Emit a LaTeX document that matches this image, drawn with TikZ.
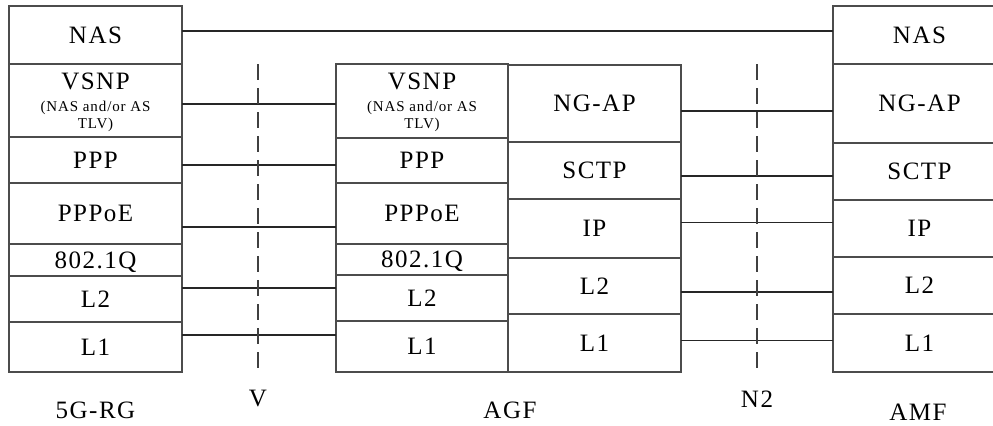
\documentclass[tikz,border=0pt]{standalone}
\usepackage{fontspec}
\setmainfont{Liberation Serif}[LetterSpace=6]
\newcommand\vsnpnote{\fontsize{7.5}{9}\selectfont}

\begin{document}
\begin{tikzpicture}[x = 0.5pt, y = -0.5pt, font = \fontsize{12.5}{15}\selectfont,
	layer/.style = {draw = black!70, line width = 0.8pt, inner sep = 0pt, outer sep = 0pt, align = center, text depth = 0pt},
	link/.style = {black!85, line width = 0.55pt},
	divider/.style = {black!75, line width = 0.9pt, dash pattern = on 8pt off 4pt}]

	% Frame

	\useasboundingbox (0, 0) rectangle (993, 425);
	\clip (0, 0) rectangle (993, 425);

	% Draw 5G-RG stack

	\def\cx{95.5}		% Column centre and width
	\def\w{86.5pt}

	\foreach \name/\top/\bot/\txt in {rg-nas/6/64/NAS, rg-vsnp/64/137/{VSNP\\[-4pt]\vsnpnote (NAS and/or AS\\[-6.5pt]\vsnpnote TLV)}, rg-ppp/137/183/PPP, rg-pppoe/183/244/PPPoE, rg-vlan/244/276/802.1Q, rg-l2/276/322/L2, rg-l1/322/372/L1}
	{
		\node [layer, minimum width = \w, minimum height = {(\bot - \top) * 0.5pt}] (\name) at (\cx, {(\top + \bot) / 2}) {\txt};
	}

	% Draw AGF stacks

	\def\cx{422}
	\def\w{86pt}

	\foreach \name/\top/\bot/\txt in {agf-vsnp/64/138/{VSNP\\[-4pt]\vsnpnote (NAS and/or AS\\[-6.5pt]\vsnpnote TLV)}, agf-ppp/138/183/PPP, agf-pppoe/183/244/PPPoE, agf-vlan/244/275/802.1Q, agf-l2/275/321/L2, agf-l1/321/372/L1}
	{
		\node [layer, minimum width = \w, minimum height = {(\bot - \top) * 0.5pt}] (\name) at (\cx, {(\top + \bot) / 2}) {\txt};
	}

	\def\cx{594.5}
	\def\w{86.5pt}

	\foreach \name/\top/\bot/\txt in {agf-ngap/65/142/NG-AP, agf-sctp/142/199/SCTP, agf-ip/199/258/IP, agf-l2n/258/314/L2, agf-l1n/314/372/L1}
	{
		\node [layer, minimum width = \w, minimum height = {(\bot - \top) * 0.5pt}] (\name) at (\cx, {(\top + \bot) / 2}) {\txt};
	}

	% Draw AMF stack

	\def\cx{919.5}

	\foreach \name/\top/\bot/\txt in {amf-nas/6/64/NAS, amf-ngap/64/143/NG-AP, amf-sctp/143/200/SCTP, amf-ip/200/257/IP, amf-l2/257/314/L2, amf-l1/314/372/L1}
	{
		\node [layer, minimum width = \w, minimum height = {(\bot - \top) * 0.5pt}] (\name) at (\cx, {(\top + \bot) / 2}) {\txt};
	}

	% Peer links

	\foreach \a/\b/\dy in {rg-nas/amf-nas/2, rg-vsnp/agf-vsnp/-1.75, rg-ppp/agf-ppp/-2.5, rg-pppoe/agf-pppoe/-6.75, rg-l2/agf-l2/5.5, rg-l1/agf-l1/6, agf-ngap/amf-ngap/-3.75, agf-sctp/amf-sctp/-2.75, agf-ip/amf-ip/3, agf-l2n/amf-l2/-3, agf-l1n/amf-l1/1.25}
	{
		\draw [link] ([yshift = \dy pt]\a.east) -- ([yshift = \dy pt]\a.east -| \b.west);
	}

	% Names and reference points

	\node (rg) at (95.5, 410) {5G-RG};
	\node (agf) at (510, 410) {AGF};
	\node (amf) at (918, 412) {AMF};
	\node (v) at (258, 398) {V};
	\node (n2) at (757, 399) {N2};

	\draw [divider] (v |- rg-vsnp.north) -- (v |- rg-l1.south);
	\draw [divider] (n2 |- rg-vsnp.north) -- (n2 |- rg-l1.south);

\end{tikzpicture}
\end{document}
